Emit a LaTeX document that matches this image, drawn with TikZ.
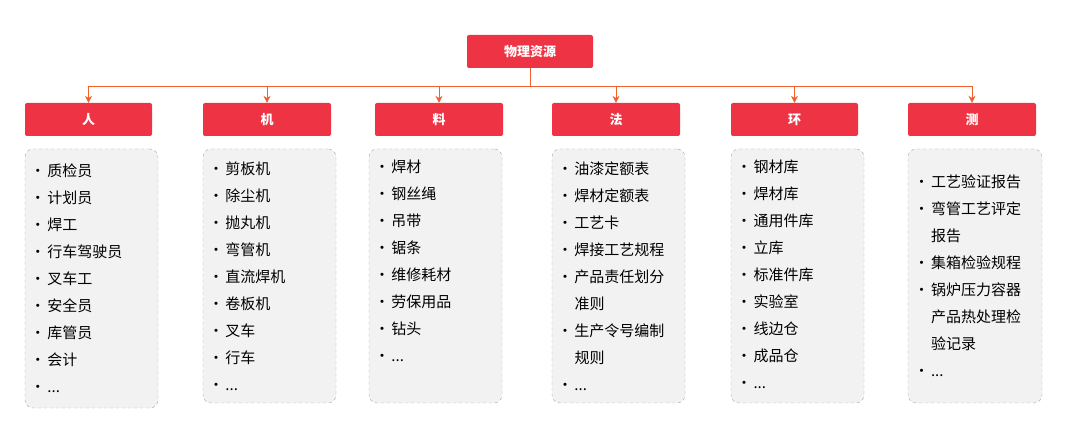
\documentclass[tikz,border=0pt]{standalone}
\usepackage{fontspec}
\setmainfont{Noto Sans CJK SC}
\usetikzlibrary{positioning,arrows.meta}
\definecolor{hdred}{HTML}{EE3344}
\definecolor{lnred}{HTML}{F0602E}
\definecolor{boxgray}{HTML}{F2F2F2}
\newcommand{\itm}[1]{\makebox[17pt][l]{\textbullet}#1}
\newcommand{\cnt}[1]{\hspace*{17pt}#1}
\begin{document}
\begin{tikzpicture}[x=1pt, y=-1pt]
\tikzset{
  hdbox/.style={fill=hdred, rounded corners=2pt, text=white, font=\fontsize{13}{15}\selectfont\bfseries, minimum height=33pt, inner sep=0pt},
  listbox/.style={draw=gray!70, dashed, fill=boxgray, rounded corners=8pt, minimum height=254pt, minimum width=133pt, inner sep=0pt},
  listtext/.style={align=left, font=\fontsize{15}{27}\selectfont, text width=122pt, inner sep=0pt},
  link/.style={draw=lnred, line width=0.9pt},
  arr/.style={link, -{Stealth[length=7pt,width=7pt]}}
}
\useasboundingbox (0,0) rectangle (1080,430);
\node[hdbox, minimum width=126pt] (root) at (530,51.5) {物理资源};
\node[hdbox, minimum width=127pt] (ren) at (88.5,119.5) {人};
\node[hdbox, minimum width=128pt] (ji) at (267,119.5) {机};
\node[hdbox, minimum width=128pt] (liao) at (439,119.5) {料};
\node[hdbox, minimum width=128pt] (fa) at (616,119.5) {法};
\node[hdbox, minimum width=127pt] (huan) at (794.5,119.5) {环};
\node[hdbox, minimum width=128pt] (ce) at (972,119.5) {测};
\coordinate (bus) at (530,86);
\draw[link] (root.south) -- (bus);
\foreach \n in {ren,ji,liao,fa,huan,ce}
  \draw[arr] (bus) -| (\n.north);
\node[listbox, minimum height=259pt] (lren) at (91.5,278.5) {};
\node[listbox] (lji) at (269.5,276) {};
\node[listbox] (lliao) at (435.5,276) {};
\node[listbox] (lfa) at (618.5,276) {};
\node[listbox] (lhuan) at (797.5,276) {};
\node[listbox, minimum width=134pt] (lce) at (975,276) {};
\node[listtext] at (lren) {\itm{质检员}\\\itm{计划员}\\\itm{焊工}\\\itm{行车驾驶员}\\\itm{叉车工}\\\itm{安全员}\\\itm{库管员}\\\itm{会计}\\\itm{...}};
\node[listtext] at (lji) {\itm{剪板机}\\\itm{除尘机}\\\itm{抛丸机}\\\itm{弯管机}\\\itm{直流焊机}\\\itm{卷板机}\\\itm{叉车}\\\itm{行车}\\\itm{...}};
\node[listtext, anchor=north] at ([yshift=-11pt]lliao.north) {\itm{焊材}\\\itm{钢丝绳}\\\itm{吊带}\\\itm{锯条}\\\itm{维修耗材}\\\itm{劳保用品}\\\itm{钻头}\\\itm{...}};
\node[listtext] at (lfa) {\itm{油漆定额表}\\\itm{焊材定额表}\\\itm{工艺卡}\\\itm{焊接工艺规程}\\\itm{产品责任划分}\\\cnt{准则}\\\itm{生产令号编制}\\\cnt{规则}\\\itm{...}};
\node[listtext, anchor=north] at ([yshift=-11pt]lhuan.north) {\itm{钢材库}\\\itm{焊材库}\\\itm{通用件库}\\\itm{立库}\\\itm{标准件库}\\\itm{实验室}\\\itm{线边仓}\\\itm{成品仓}\\\itm{...}};
\node[listtext] at (lce) {\itm{工艺验证报告}\\\itm{弯管工艺评定}\\\cnt{报告}\\\itm{集箱检验规程}\\\itm{锅炉压力容器}\\\cnt{产品热处理检}\\\cnt{验记录}\\\itm{...}};
\end{tikzpicture}
\end{document}
